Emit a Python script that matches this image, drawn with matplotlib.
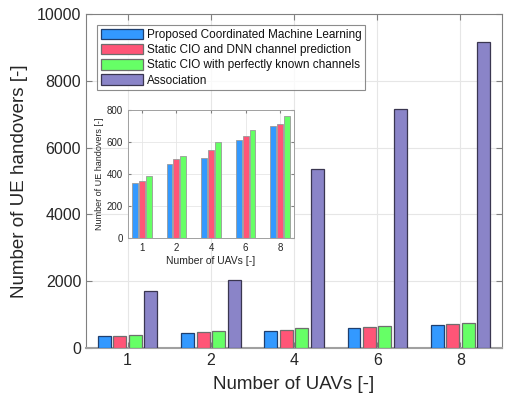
import matplotlib
matplotlib.use("Agg")
import matplotlib.pyplot as plt
import numpy as np

plt.rcParams['font.family'] = ['Liberation Sans', 'DejaVu Sans']

uav_labels = ['1', '2', '4', '6', '8']
series_names = ['Proposed Coordinated Machine Learning',
                'Static CIO and DNN channel prediction',
                'Static CIO with perfectly known channels',
                'Association']
proposed = [345, 460, 500, 612, 700]
static_dnn = [358, 492, 548, 636, 710]
static_perfect = [385, 512, 598, 673, 760]
association = [1700, 2030, 5350, 7170, 9170]

colors = ['#3399FF', '#FF5577', '#66FF66', '#8A84C8']
edges = ['#1F3F6F', '#6E6E6E', '#6E6E6E', '#3A3650']
txt = '#262626'

fig = plt.figure(figsize=(5.05, 4.05), dpi=100)
ax = fig.add_axes([0.1703, 0.1407, 0.8238, 0.8247])

x = np.arange(1, len(uav_labels) + 1)
data = [proposed, static_dnn, static_perfect, association]
step = 0.186
w = 0.156
for i, (vals, c, e, n) in enumerate(zip(data, colors, edges, series_names)):
    ax.bar(x + (i - 1.5) * step, vals, width=w, color=c, edgecolor=e,
           linewidth=0.9, label=n, zorder=3)

ax.set_xlim(0.5, 5.5)
ax.set_ylim(0, 10000)
ax.set_xticks(x)
ax.set_xticklabels(uav_labels)
ax.set_yticks(np.arange(0, 10001, 2000))
ax.tick_params(direction='in', top=True, right=True, labelsize=11.5,
               colors='#808080', labelcolor=txt, length=4)
ax.grid(True, color='#E6E6E6', linewidth=0.8, zorder=0)
for s in ax.spines.values():
    s.set_color('#808080')
    s.set_linewidth(0.8)
ax.spines['bottom'].set_linewidth(1.5)
ax.spines['bottom'].set_color('#A0A0A0')
ax.set_xlabel('Number of UAVs [-]', fontsize=13.5, color=txt, labelpad=6)
ax.set_ylabel('Number of UE handovers [-]', fontsize=13.5, color=txt, labelpad=6)

leg = ax.legend(loc='upper left', bbox_to_anchor=(0.0264, 0.967),
                borderaxespad=0, fontsize=8.5, frameon=True, fancybox=False,
                handlelength=3.6, handleheight=1.0, handletextpad=0.3,
                labelspacing=0.25, borderpad=0.3)
leg.get_frame().set_edgecolor('#707070')
leg.get_frame().set_linewidth(0.8)
for t in leg.get_texts():
    t.set_color('#111111')

# Inset
ax2 = fig.add_axes([0.2535, 0.4123, 0.3287, 0.316])
step2 = 0.2
w2 = 0.17
for i, (vals, c, e) in enumerate(zip(data[:3], colors[:3], edges[:3])):
    ax2.bar(x + (i - 1) * step2, vals, width=w2, color=c, edgecolor='#9A9A9A',
            linewidth=0.6, zorder=3)
ax2.set_xlim(0.6, 5.4)
ax2.set_ylim(0, 800)
ax2.set_xticks(x)
ax2.set_xticklabels(uav_labels)
ax2.set_yticks(np.arange(0, 801, 200))
ax2.tick_params(direction='in', top=True, right=True, labelsize=7,
                colors='#808080', labelcolor=txt, length=2.5)
ax2.grid(True, color='#E6E6E6', linewidth=0.6, zorder=0)
for s in ax2.spines.values():
    s.set_color('#A0A0A0')
    s.set_linewidth(0.7)
ax2.set_xlabel('Number of UAVs [-]', fontsize=7.5, color=txt, labelpad=2)
ax2.set_ylabel('Number of UE handovers [-]', fontsize=6.5, color=txt, labelpad=2)

fig.savefig('out.png', dpi=100)
